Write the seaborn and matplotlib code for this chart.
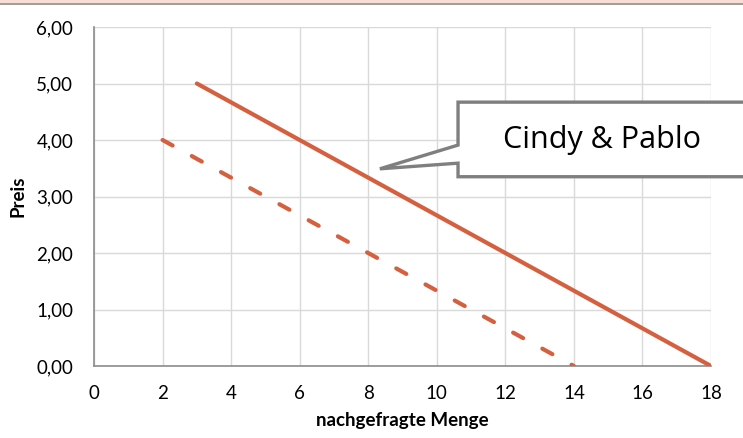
import matplotlib
matplotlib.use("Agg")
import matplotlib.pyplot as plt
from matplotlib.patches import Polygon, Rectangle
from matplotlib.lines import Line2D
import seaborn as sns
import pandas as pd

# Nachfragekurven
menge_gesamt = [3, 18]
preis_gesamt = [5.0, 0.0]
menge_einzeln = [2, 14]
preis_einzeln = [4.0, 0.0]

x_ticks = [0, 2, 4, 6, 8, 10, 12, 14, 16, 18]
y_ticks = [0, 1, 2, 3, 4, 5, 6]
y_labels = ["0,00", "1,00", "2,00", "3,00", "4,00", "5,00", "6,00"]
callout_text = "Cindy & Pablo"

sns.set_theme(style="white")
plt.rcParams["font.family"] = ["Lato", "DejaVu Sans"]

W, H = 743, 438
fig = plt.figure(figsize=(W / 100, H / 100), dpi=100)
ax = fig.add_axes([94 / W, 1 - 366 / H, (711 - 94) / W, (366 - 27) / H])

line_color = "#D5603F"
df_g = pd.DataFrame({"Menge": menge_gesamt, "Preis": preis_gesamt})
df_e = pd.DataFrame({"Menge": menge_einzeln, "Preis": preis_einzeln})

sns.lineplot(data=df_g, x="Menge", y="Preis", ax=ax, color=line_color,
             lw=3.0, solid_capstyle="round", sort=False, zorder=3)
sns.lineplot(data=df_e, x="Menge", y="Preis", ax=ax, color=line_color,
             lw=3.0, sort=False, zorder=3)
ax.lines[-1].set_dashes((2.75, 5.25))
ax.lines[-1].set_dash_capstyle("round")

ax.set_xlim(0, 18)
ax.set_ylim(0, 6)
ax.set_xticks(x_ticks)
ax.set_xticklabels([str(v) for v in x_ticks])
ax.set_yticks(y_ticks)
ax.set_yticklabels(y_labels)

ax.grid(True, color="#D9D9D9", lw=1.0)
ax.set_axisbelow(True)
for side in ["top", "right"]:
    ax.spines[side].set_visible(False)
for side in ["left", "bottom"]:
    ax.spines[side].set_color("#8C8C8C")
    ax.spines[side].set_linewidth(1.2)

ax.tick_params(axis="both", which="major", direction="out", length=5,
               width=1.2, color="#8C8C8C", labelsize=13.5, labelcolor="#000000")
ax.tick_params(axis="y", pad=10)
ax.tick_params(axis="x", pad=9)

ax.set_xlabel("nachgefragte Menge", fontsize=13.5, fontweight="bold",
              color="#000000", labelpad=7)
ax.set_ylabel("Preis", fontsize=13.5, fontweight="bold", color="#000000",
              labelpad=7)

# Sprechblase mit Spitze zur durchgezogenen Linie
tip = (8.34, 3.49)
box_left, box_right = 10.62, 19.8
box_top, box_bottom = 4.67, 3.35
notch_hi, notch_lo = 3.91, 3.59
callout = Polygon(
    [(box_left, box_top), (box_right, box_top), (box_right, box_bottom),
     (box_left, box_bottom), (box_left, notch_lo), tip, (box_left, notch_hi)],
    closed=True, facecolor="white", edgecolor="#7F7F7F", lw=2.4,
    joinstyle="miter", clip_on=False, zorder=5)
ax.add_patch(callout)
ax.text(14.82, 4.0, callout_text, fontsize=22, family=["Open Sans", "DejaVu Sans"],
        ha="center", va="center", color="#000000", zorder=6)

# Rahmen am oberen Rand
fig.add_artist(Rectangle((0, 1 - 3 / H), 1, 3 / H, transform=fig.transFigure,
                         facecolor="#F8DDD4", edgecolor="none"))
fig.add_artist(Line2D([0, 1], [1 - 3.5 / H, 1 - 3.5 / H], transform=fig.transFigure,
                      color="#8C8C8C", lw=1.2))

fig.savefig("out.png", dpi=100)
